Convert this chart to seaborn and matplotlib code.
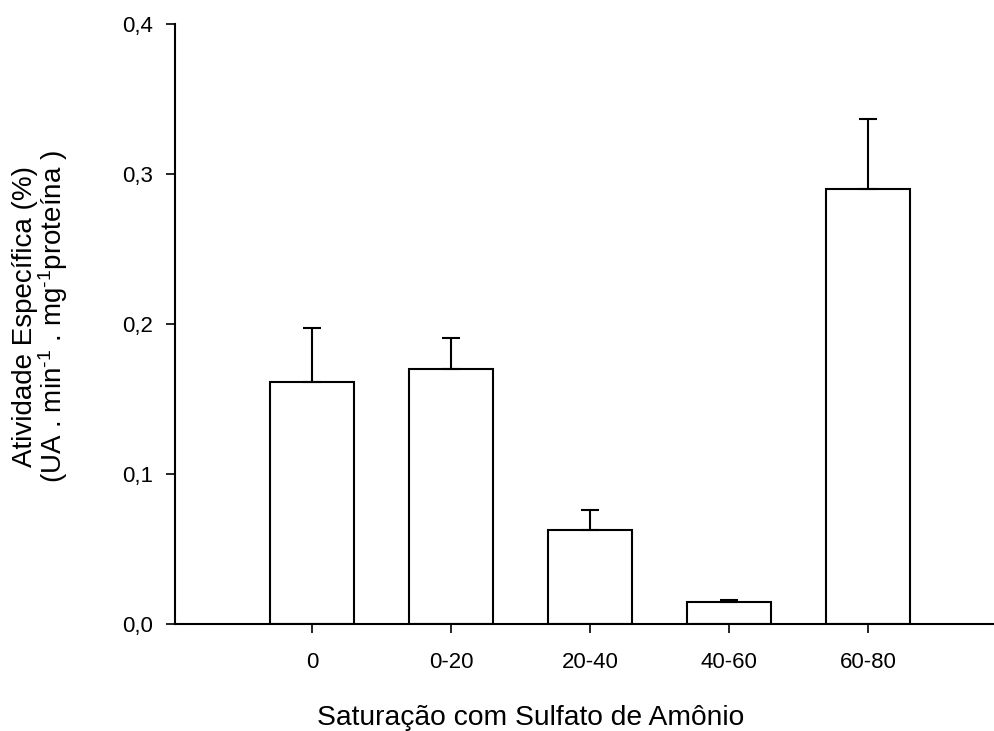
import matplotlib
matplotlib.use("Agg")
import matplotlib.pyplot as plt
import seaborn as sns
import pandas as pd
import numpy as np

categories = ["0", "0-20", "20-40", "40-60", "60-80"]
values = [0.1615, 0.170, 0.0628, 0.0150, 0.290]
errors = [0.036, 0.021, 0.013, 0.001, 0.047]
yticks = [0.0, 0.1, 0.2, 0.3, 0.4]
ytick_labels = ["0,0", "0,1", "0,2", "0,3", "0,4"]

sns.set_theme(style="ticks")
plt.rcParams['font.family'] = ['Liberation Sans', 'DejaVu Sans']
plt.rcParams['mathtext.fontset'] = 'custom'
plt.rcParams['mathtext.rm'] = 'Liberation Sans'
plt.rcParams['mathtext.it'] = 'Liberation Sans'
plt.rcParams['mathtext.bf'] = 'Liberation Sans'

df = pd.DataFrame({"cat": categories, "val": values})

fig = plt.figure(figsize=(9.95, 7.31), dpi=100)
ax = fig.add_axes([175/995, 107/731, 818/995, 600/731])

sns.barplot(data=df, x="cat", y="val", order=categories, color="white",
            edgecolor="black", linewidth=1.5, width=0.6, errorbar=None, ax=ax,
            zorder=2)
ax.errorbar(np.arange(len(categories)), values,
            yerr=[np.zeros(len(errors)), errors], fmt="none", ecolor="black",
            elinewidth=1.5, capsize=6.2, capthick=1.5, zorder=3)

ax.set_xlim(-0.985, 4.9)
ax.set_ylim(0, 0.4)
ax.set_yticks(yticks)
ax.set_yticklabels(ytick_labels)
ax.tick_params(axis="both", direction="out", length=6.8, width=1.2,
               labelsize=16, colors="black")
ax.tick_params(axis="x", pad=13)
ax.tick_params(axis="y", pad=9)
for s in ["top", "right"]:
    ax.spines[s].set_visible(False)
for s in ["left", "bottom"]:
    ax.spines[s].set_linewidth(1.5)
    ax.spines[s].set_color("black")

ax.set_xlabel("Saturação com Sulfato de Amônio", fontsize=20.3, color="black")
ax.xaxis.set_label_coords(0.435, -0.135)
ax.set_ylabel("Atividade Específica (%)\n(UA . min$^{\\text{-1}}$ . mg$^{\\text{-1}}$proteína )",
              fontsize=20, linespacing=0.95, color="black")
ax.yaxis.set_label_coords(-0.128, 0.513)

fig.savefig("out.png", dpi=100, facecolor="white")
